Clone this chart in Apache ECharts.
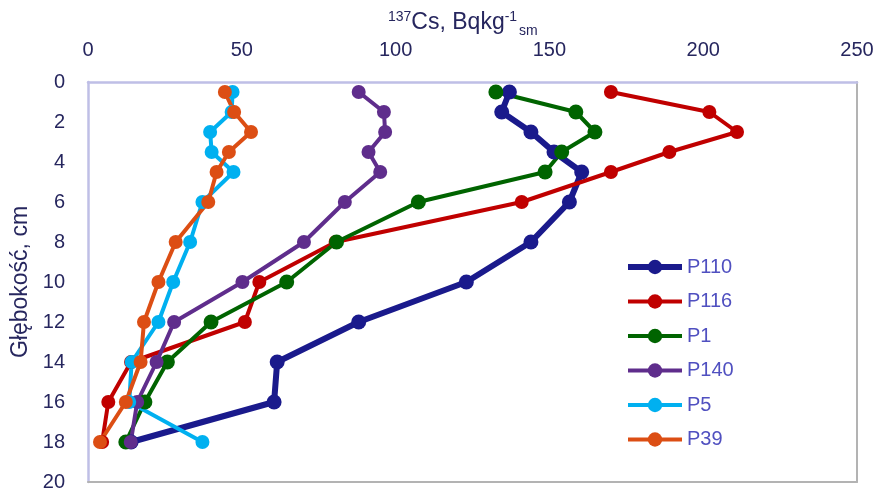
<!DOCTYPE html>
<html>
<head>
<meta charset="utf-8">
<title>137Cs profile</title>
<script src="https://cdn.jsdelivr.net/npm/echarts@6/dist/echarts.min.js"></script>
<style>
  html, body { margin: 0; padding: 0; background: #fff; }
  #chart { width: 877px; height: 492px; }
</style>
</head>
<body>
<div id="chart"></div>
<script>
// Sampling depths (cm), mid-point of each layer
const depths = [0.5, 1.5, 2.5, 3.5, 4.5, 6, 8, 10, 12, 14, 16, 18];

// 137Cs activity (Bq/kg) per profile, one value per depth
const seriesNames = ['P110', 'P116', 'P1', 'P140', 'P5', 'P39'];
const p110 = [137, 134.5, 144, 151.5, 160.5, 156.5, 144, 123, 88, 61.5, 60.5, 14];
const p116 = [170, 202, 211, 189, 170, 141, 80.5, 55.7, 51, 14, 6.6, 4.6];
const p1   = [132.6, 158.6, 164.8, 154, 148.6, 107.4, 80.8, 64.6, 40, 25.8, 18.5, 12.3];
const p140 = [88, 96.2, 96.6, 91.2, 95, 83.5, 70.2, 50.2, 28, 22.3, 16, 13.9];
const p5   = [47, 46.7, 39.7, 40.2, 47.3, 37.2, 33.2, 27.7, 22.9, 14.2, 13.4, 37.2];
const p39  = [44.5, 47.5, 53, 45.8, 41.8, 39.1, 28.5, 22.9, 18.2, 17.1, 12.3, 3.9];

// Axis ranges and tick steps
const xMin = 0, xMax = 250, xStep = 50;
const yMin = 0, yMax = 20, yStep = 2;

const values = [p110, p116, p1, p140, p5, p39];
const colors = ['#1a1a8c', '#c00000', '#006400', '#5f2d8c', '#00b0f0', '#dc4e14'];
const widths = [6, 4, 4, 4, 4, 4];
const sizes = [15, 14, 15, 14, 14, 14];

const axisText = '#26265e';
const fontFam = '"Liberation Sans", Arial, sans-serif';

const series = seriesNames.map((name, i) => ({
  name: name,
  type: 'line',
  xAxisIndex: 0,
  yAxisIndex: 0,
  data: values[i].map((v, k) => [v, depths[k]]),
  symbol: 'circle',
  symbolSize: sizes[i],
  showSymbol: true,
  lineStyle: { color: colors[i], width: widths[i] },
  itemStyle: { color: colors[i] },
  emphasis: { disabled: true },
  animation: false
}));

const legendData = seriesNames.map((name, i) => ({
  name: name,
  lineStyle: { width: widths[i], color: colors[i] },
  itemStyle: { color: colors[i] }
}));

const chart = echarts.init(document.getElementById('chart'), null, { renderer: 'canvas' });
chart.setOption({
  backgroundColor: '#ffffff',
  animation: false,
  title: {
    left: 383,
    top: 1,
    text: '{sup|137}{m|Cs, Bqkg}{sup|-1}{sub|sm}',
    textStyle: {
      fontWeight: 'normal',
      rich: {
        m:   { fontSize: 23, fontWeight: 'normal', fontFamily: fontFam, color: axisText, lineHeight: 34, verticalAlign: 'middle' },
        sup: { fontSize: 14, fontWeight: 'normal', fontFamily: fontFam, color: axisText, lineHeight: 34, verticalAlign: 'top', padding: [4, 0, 0, 0] },
        sub: { fontSize: 14, fontWeight: 'normal', fontFamily: fontFam, color: axisText, lineHeight: 34, verticalAlign: 'bottom', padding: [0, 0, 2, 2] }
      }
    }
  },
  grid: { left: 88, right: 20, top: 82, bottom: 8, containLabel: false },
  legend: {
    orient: 'vertical',
    left: 625,
    top: 257,
    padding: 0,
    itemWidth: 54,
    itemHeight: 18,
    itemGap: 14.5,
    data: legendData,
    textStyle: { fontSize: 20, fontFamily: fontFam, color: '#5050c0', lineHeight: 20 }
  },
  xAxis: [
    {
      type: 'value', position: 'top', min: xMin, max: xMax, interval: xStep,
      axisLine: { show: true, lineStyle: { color: '#bfbfe6', width: 2.5 } },
      axisTick: { show: false },
      splitLine: { show: false },
      axisLabel: { fontSize: 20, fontFamily: fontFam, color: axisText, margin: 22 }
    },
    {
      type: 'value', position: 'bottom', min: xMin, max: xMax, interval: xStep,
      axisLine: { show: true, onZero: false, lineStyle: { color: '#b3b3b3', width: 2 } },
      axisTick: { show: false }, axisLabel: { show: false }, splitLine: { show: false }
    }
  ],
  yAxis: [
    {
      type: 'value', inverse: true, min: yMin, max: yMax, interval: yStep,
      position: 'left',
      name: 'Głębokość, cm',
      nameLocation: 'middle',
      nameRotate: 90,
      nameGap: 48,
      nameTextStyle: { fontSize: 23, fontFamily: fontFam, color: axisText },
      axisLine: { show: true, onZero: false, lineStyle: { color: '#bfbfe6', width: 2.5 } },
      axisTick: { show: false },
      splitLine: { show: false },
      axisLabel: { fontSize: 20, fontFamily: fontFam, color: axisText, margin: 23 }
    },
    {
      type: 'value', inverse: true, min: yMin, max: yMax, interval: yStep,
      position: 'right',
      axisLine: { show: true, onZero: false, lineStyle: { color: '#b3b3b3', width: 2 } },
      axisTick: { show: false }, axisLabel: { show: false }, splitLine: { show: false }
    }
  ],
  series: series
});
</script>
</body>
</html>
